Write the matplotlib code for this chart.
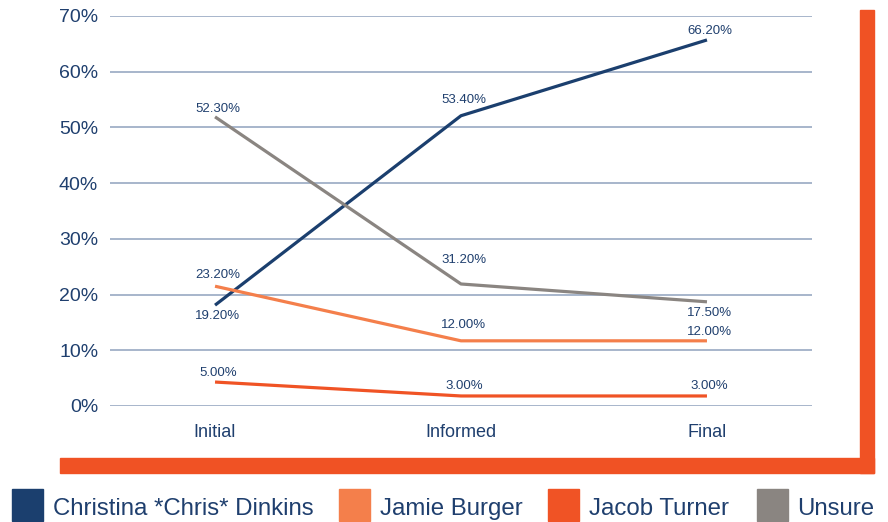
import matplotlib
matplotlib.use("Agg")
import matplotlib.pyplot as plt
from matplotlib.patches import Rectangle

plt.rcParams['font.family'] = ['Liberation Sans', 'DejaVu Sans']

# ---- data (line positions as drawn, labels as printed) ----
stages = ["Initial", "Informed", "Final"]
series_names = ["Christina *Chris* Dinkins", "Jamie Burger", "Jacob Turner", "Unsure"]
chris = [18.1, 52.1, 65.7]
jamie = [21.5, 11.7, 11.7]
jacob = [4.3, 1.8, 1.8]
unsure = [51.9, 21.9, 18.7]
chris_lbl = ["19.20%", "53.40%", "66.20%"]
jamie_lbl = ["23.20%", "12.00%", "12.00%"]
jacob_lbl = ["5.00%", "3.00%", "3.00%"]
unsure_lbl = ["52.30%", "31.20%", "17.50%"]
yticks = [0, 10, 20, 30, 40, 50, 60, 70]

# styling
colors = ["#1b3f6e", "#f47f4b", "#f05325", "#8a8581"]
txt_c = "#1f3f6e"
grid_c = "#a7b6cb"
frame_c = "#f05224"
# vertical pixel offsets of each value label from its point
chris_off = [-11, 16, 9]
jamie_off = [11, 16, 9]
jacob_off = [9, 10, 10]
unsure_off = [8, 24, -11]

W, H = 888, 522
fig = plt.figure(figsize=(W / 100, H / 100), dpi=100)
ax = fig.add_axes([110 / W, 1 - 406 / H, 702 / W, 390 / H])

x = list(range(len(stages)))
all_series = [chris, jamie, jacob, unsure]
all_lbls = [chris_lbl, jamie_lbl, jacob_lbl, unsure_lbl]
all_offs = [chris_off, jamie_off, jacob_off, unsure_off]

for ys, c in zip(all_series, colors):
    ax.plot(x, ys, color=c, lw=2.3, solid_capstyle="butt", zorder=3)

for ys, lbls, offs in zip(all_series, all_lbls, all_offs):
    for xi, yv, lb, dy in zip(x, ys, lbls, offs):
        ax.annotate(lb, (xi, yv), xytext=(2, dy * 0.72), textcoords="offset points",
                    ha="center", va="center", fontsize=9.5, color=txt_c)

ax.set_xlim(-0.427, 2.427)
ax.set_ylim(0, 70)
ax.set_yticks(yticks)
ax.set_yticklabels([f"{t}%" for t in yticks])
ax.set_xticks(x)
ax.set_xticklabels(stages)
ax.tick_params(axis="both", length=0, colors=txt_c)
ax.tick_params(axis="y", pad=8.5, labelsize=14)
ax.tick_params(axis="x", pad=13, labelsize=13)
ax.grid(axis="y", color=grid_c, lw=1.4)
ax.set_axisbelow(True)
for sp in ax.spines.values():
    sp.set_visible(False)

# orange frame (right and bottom bars)
fig.patches.append(Rectangle((860 / W, 1 - 473 / H), 14 / W, 463 / H,
                             transform=fig.transFigure, color=frame_c))
fig.patches.append(Rectangle((60 / W, 1 - 473 / H), 814 / W, 15 / H,
                             transform=fig.transFigure, color=frame_c))

# legend row
sq_x = [12, 339, 548, 757]
tx_x = [53, 380, 589, 797]
for sx, tx, name, c in zip(sq_x, tx_x, series_names, colors):
    fig.patches.append(Rectangle((sx / W, 1 - 521 / H), 31 / W, 32 / H,
                                 transform=fig.transFigure, color=c))
    fig.text(tx / W, 1 - 515 / H, name, fontsize=17.3, color=txt_c,
             ha="left", va="baseline")

fig.savefig("out.png", dpi=100)
